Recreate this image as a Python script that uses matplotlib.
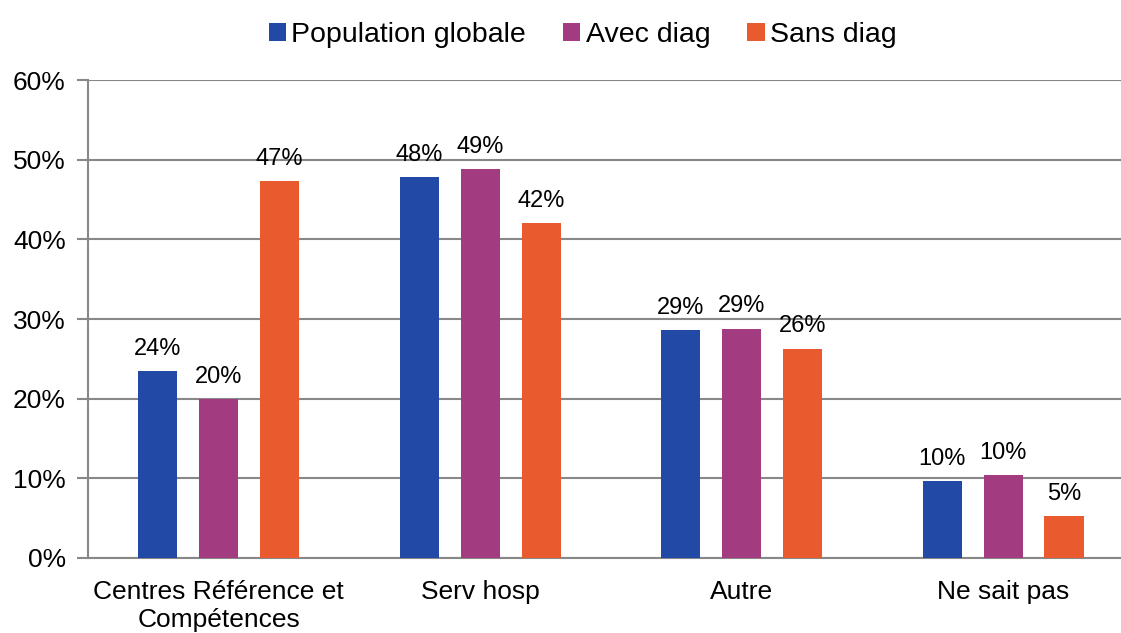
import numpy as np
import matplotlib.pyplot as plt

plt.rcParams['font.family'] = ['Liberation Sans', 'DejaVu Sans']

categories = ["Centres Référence et\nCompétences", "Serv hosp", "Autre", "Ne sait pas"]
series = ["Population globale", "Avec diag", "Sans diag"]
pop_globale = [23.5, 47.8, 28.6, 9.7]
avec_diag = [20.0, 48.8, 28.8, 10.4]
sans_diag = [47.3, 42.0, 26.3, 5.3]
colors = ["#2349A6", "#A33B80", "#E95B2F"]

fig = plt.figure(figsize=(11.21, 6.33), dpi=100)
ax = fig.add_axes([0.0785, 0.1185, 0.933, 0.755])

x = np.arange(len(categories))
w = 0.15
step = 0.233
for i, (vals, name) in enumerate(zip([pop_globale, avec_diag, sans_diag], series)):
    pos = x + (i - 1) * step
    ax.bar(pos, vals, w, color=colors[i], label=name, zorder=3)
    for px, v in zip(pos, vals):
        ax.annotate(f"{v:.0f}%", (px, v), xytext=(0, 8), textcoords='offset points',
                    ha='center', va='bottom', fontsize=17)

ax.set_xlim(-0.5, 3.5)
ax.set_ylim(0, 60)
ax.set_yticks(range(0, 61, 10))
ax.set_yticklabels([f"{t}%" for t in range(0, 61, 10)], fontsize=19)
ax.set_xticks(x)
ax.set_xticklabels(categories, fontsize=19, linespacing=1.2)
ax.tick_params(axis='x', length=0, pad=16)
ax.tick_params(axis='y', length=8, color='#888888', width=1.5, pad=8)
ax.grid(axis='y', color='#888888', linewidth=1.5, zorder=0)
for s in ['top', 'right']:
    ax.spines[s].set_visible(False)
for s in ['left', 'bottom']:
    ax.spines[s].set_color('#888888')
    ax.spines[s].set_linewidth(1.5)

ax.legend(loc='upper center', bbox_to_anchor=(0.473, 1.175), ncol=3, frameon=False,
          fontsize=20.5, handlelength=0.6, handleheight=0.6, handletextpad=0.2,
          columnspacing=1.3)

fig.savefig("out.png", dpi=100)
